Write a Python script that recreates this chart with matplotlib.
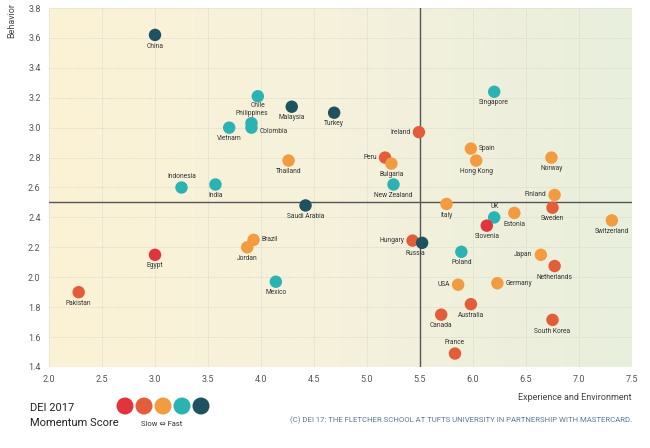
import numpy as np
import matplotlib
matplotlib.use("Agg")
import matplotlib.pyplot as plt
from matplotlib.colors import LinearSegmentedColormap

plt.rcParams['font.family'] = ['Roboto', 'DejaVu Sans']

countries = ["China", "Chile", "Philippines", "Colombia", "Vietnam", "Malaysia", "Turkey",
             "Thailand", "Indonesia", "India", "Singapore", "Ireland", "Spain", "Hong Kong",
             "Norway", "Peru", "Bulgaria", "New Zealand", "Finland", "Saudi Arabia", "Brazil",
             "Jordan", "Egypt", "Mexico", "Pakistan", "Italy", "UK", "Slovenia", "Estonia",
             "Sweden", "Switzerland", "Hungary", "Russia", "Poland", "Japan", "Netherlands",
             "USA", "Germany", "Australia", "Canada", "South Korea", "France"]
experience = [3.00, 3.97, 3.91, 3.91, 3.70, 4.29, 4.69,
              4.26, 3.25, 3.57, 6.20, 5.49, 5.98, 6.03,
              6.74, 5.17, 5.23, 5.25, 6.77, 4.42, 3.93,
              3.87, 3.00, 4.14, 2.28, 5.75, 6.20, 6.13, 6.39,
              6.75, 7.31, 5.43, 5.52, 5.89, 6.64, 6.77,
              5.86, 6.23, 5.98, 5.70, 6.75, 5.83]
behavior = [3.62, 3.21, 3.03, 3.00, 3.00, 3.14, 3.10,
            2.78, 2.60, 2.62, 3.24, 2.97, 2.86, 2.78,
            2.80, 2.80, 2.76, 2.62, 2.55, 2.48, 2.25,
            2.20, 2.15, 1.97, 1.90, 2.49, 2.40, 2.345, 2.43,
            2.465, 2.38, 2.245, 2.23, 2.17, 2.15, 2.075,
            1.95, 1.96, 1.82, 1.75, 1.715, 1.49]
# momentum class: 1 = slowest ... 5 = fastest
momentum = [5, 4, 4, 4, 4, 5, 5,
            3, 4, 4, 4, 2, 3, 3,
            3, 2, 3, 4, 3, 5, 3,
            3, 1, 4, 2, 3, 4, 1, 3,
            2, 3, 2, 5, 4, 3, 2,
            3, 3, 2, 2, 2, 2]
label_pos = ["below", "below", "above", "right", "below", "below", "below",
             "below", "above", "below", "below", "left", "right", "below",
             "below", "left", "below", "below", "left", "below", "right",
             "below", "below", "below", "below", "below", "above", "below", "below",
             "below", "below", "left", "belowleft", "below", "left", "below",
             "left", "right", "below", "below", "below", "above"]

palette = {1: "#e2343d", 2: "#e35d3a", 3: "#f29b3f", 4: "#2bb3b4", 5: "#1f5260"}
x_ticks = [2.0, 2.5, 3.0, 3.5, 4.0, 4.5, 5.0, 5.5, 6.0, 6.5, 7.0, 7.5]
y_ticks = [1.4, 1.6, 1.8, 2.0, 2.2, 2.4, 2.6, 2.8, 3.0, 3.2, 3.4, 3.6, 3.8]

W, H = 650, 448
fig = plt.figure(figsize=(6.5, 4.48), dpi=100)
fig.patch.set_facecolor("white")
ax = fig.add_axes([49 / W, (H - 367) / H, (632 - 49) / W, (367 - 8) / H])

# background gradient
cmap = LinearSegmentedColormap.from_list("bg", ["#fcf3d6", "#f5f1dc", "#e8efdc"])
grad = np.linspace(0, 1, 256).reshape(1, -1)
ax.imshow(grad, cmap=cmap, aspect="auto", extent=[2.0, 7.5, 1.4, 3.8], zorder=0)

ax.set_xlim(2.0, 7.5)
ax.set_ylim(1.4, 3.8)
ax.set_xticks(x_ticks)
ax.set_yticks(y_ticks)
ax.set_xticklabels([f"{v:.1f}" for v in x_ticks])
ax.set_yticklabels([f"{v:.1f}" for v in y_ticks])
ax.tick_params(length=0, labelsize=6.5, colors="#555555", pad=6)
for s in ax.spines.values():
    s.set_visible(False)
ax.grid(True, color="#d8d6c8", linestyle=(0, (1, 1)), linewidth=0.6, zorder=1)

ax.axvline(5.5, color="#555555", linewidth=1.0, zorder=2)
ax.axhline(2.5, color="#555555", linewidth=1.0, zorder=2)

cols = [palette[m] for m in momentum]
ax.scatter(experience, behavior, s=80, c=cols, edgecolors="none", zorder=3)

offsets = {"below": ((0, -5.5), "center", "top"),
           "above": ((0, 5.5), "center", "bottom"),
           "left": ((-6, 0), "right", "center"),
           "right": ((6, 0), "left", "center"),
           "belowleft": ((-5, -5.5), "center", "top")}
for name, xv, yv, pos in zip(countries, experience, behavior, label_pos):
    off, ha, va = offsets[pos]
    if name == "Colombia":
        off = (6, -3)
    elif name == "Chile":
        off = (0, -4.3)
    elif name == "Philippines":
        off = (0, 4.3)
    ax.annotate(name, (xv, yv), xytext=off, textcoords="offset points",
                ha=ha, va=va, fontsize=4.8, color="#333333", zorder=4)

fig.text(12 / W, 1 - 20 / H, "Behavior", rotation=90, ha="center", va="center",
         fontsize=6.5, color="#444444")
fig.text(632 / W, 1 - 397 / H, "Experience and Environment", ha="right", va="center",
         fontsize=6.5, color="#444444")

# legend
fig.text(30 / W, 1 - 408 / H, "DEI 2017", ha="left", va="center", fontsize=8, color="#222222")
fig.text(30 / W, 1 - 423 / H, "Momentum Score", ha="left", va="center", fontsize=8, color="#222222")
lax = fig.add_axes([0, 0, 1, 1], zorder=-1 + 10)
lax.set_xlim(0, W)
lax.set_ylim(H, 0)
lax.axis("off")
lax.patch.set_alpha(0)
for i, k in enumerate([1, 2, 3, 4, 5]):
    lax.scatter([125 + i * 19], [406], s=150, color=palette[k], edgecolors="none")
fig.text(162 / W, 1 - 424 / H, "Slow \u21d4 Fast", ha="center", va="center",
         fontsize=5.5, color="#333333", family=["Roboto", "DejaVu Sans"])
fig.text(632 / W, 1 - 420 / H,
         "(C) DEI 17: THE FLETCHER SCHOOL AT TUFTS UNIVERSITY IN PARTNERSHIP WITH MASTERCARD.",
         ha="right", va="center", fontsize=5.6, color="#5b7896")

fig.savefig("out.png", dpi=100, facecolor="white")
